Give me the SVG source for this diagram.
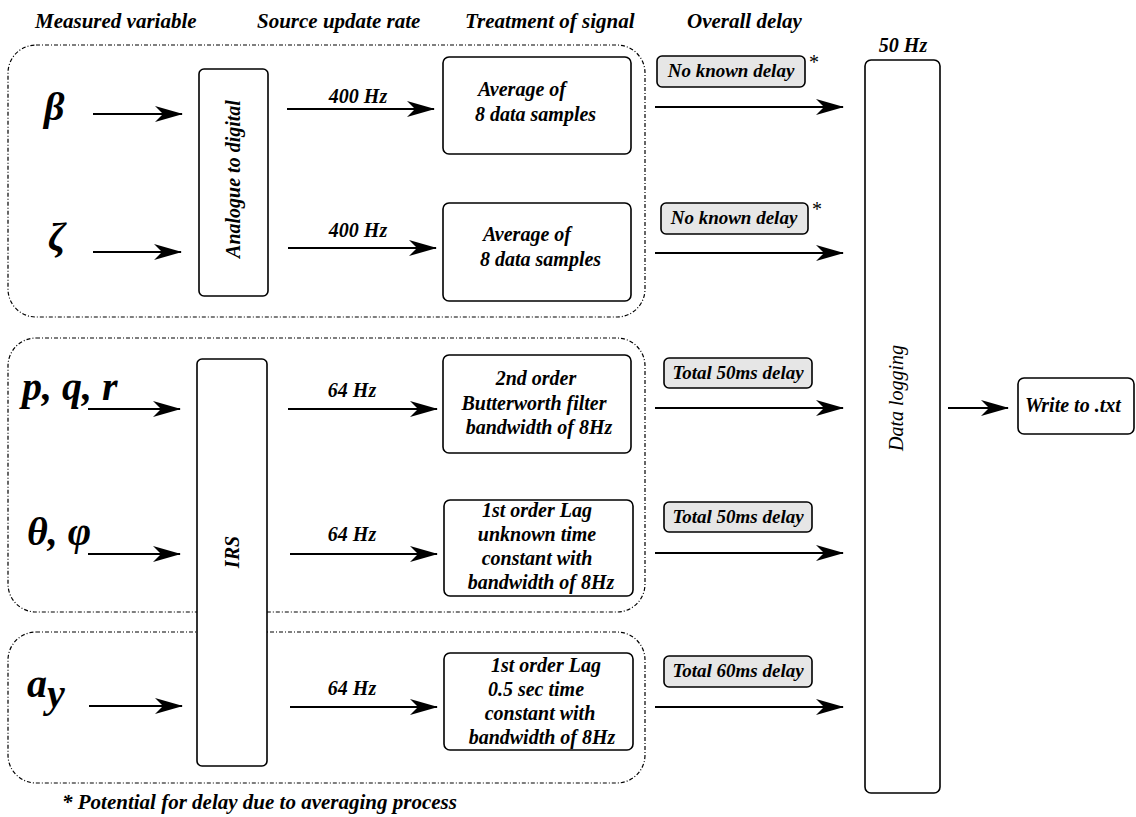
<svg xmlns="http://www.w3.org/2000/svg" width="1136" height="817" viewBox="0 0 1136 817">
<style>
.t{font-family:"Liberation Serif","Times New Roman",serif;font-weight:bold;font-style:italic;fill:#000}
.h{font-size:21px}
.lbl{font-size:20px}
.bx{font-size:20px}
.dl{font-size:19px}
.gr{font-size:40px}
.grp{fill:none;stroke:#000;stroke-width:1.2;stroke-dasharray:4 2 1 2}
.node{fill:#fff;stroke:#000;stroke-width:1.6}
.tag{fill:#e6e6e6;stroke:#000;stroke-width:1.6}
.c{stroke:#000;stroke-width:1.8;fill:none;marker-end:url(#ah)}
</style>
<defs>
<marker id="ah" markerUnits="userSpaceOnUse" viewBox="0 0 28 16" markerWidth="28" markerHeight="16" refX="27" refY="8" orient="auto">
<path d="M0,0 L28,8 L0,16 L8,8 Z" fill="#000"/>
</marker>
</defs>
<rect width="1136" height="817" fill="#fff"/>

<g id="headers">
<text class="t h" x="35" y="28">Measured variable</text>
<text class="t h" x="257" y="28">Source update rate</text>
<text class="t h" x="465" y="28">Treatment of signal</text>
<text class="t h" x="687" y="28">Overall delay</text>
</g>

<g id="groups">
<rect id="group-1" class="grp" x="8" y="45" width="637" height="272" rx="28"/>
<rect id="group-2" class="grp" x="8" y="338" width="637" height="274" rx="28"/>
<rect id="group-3" class="grp" x="8" y="632" width="637" height="151" rx="28"/>
</g>

<g id="var-beta"><text class="t gr" x="44" y="120">β</text></g>
<g id="var-zeta"><text class="t gr" x="48" y="250">ζ</text></g>
<g id="var-pqr"><text class="t gr" x="22" y="400">p, q, r</text></g>
<g id="var-theta-phi"><text class="t gr" x="27" y="545">θ, φ</text></g>
<g id="var-ay"><text class="t gr" x="27" y="697">a<tspan dy="10">y</tspan></text></g>

<g id="adc">
<rect class="node" x="199" y="69" width="69" height="227" rx="5"/>
<text class="t bx" transform="translate(240,179) rotate(-90)" text-anchor="middle">Analogue to digital</text>
</g>
<g id="irs">
<rect class="node" x="197" y="359" width="70" height="407" rx="5"/>
<text class="t bx" transform="translate(239,552) rotate(-90)" text-anchor="middle">IRS</text>
</g>

<g id="avg-1">
<rect class="node" x="443" y="57" width="188" height="97" rx="6"/>
<text class="t bx" x="478" y="96">Average of</text>
<text class="t bx" x="475" y="121">8 data samples</text>
</g>
<g id="avg-2">
<rect class="node" x="443" y="203" width="188" height="98" rx="6"/>
<text class="t bx" x="483" y="241">Average of</text>
<text class="t bx" x="480" y="266">8 data samples</text>
</g>
<g id="butterworth">
<rect class="node" x="443" y="355" width="188" height="98" rx="6"/>
<text class="t bx" x="536" y="385" text-anchor="middle">2nd order</text>
<text class="t bx" x="534" y="410" text-anchor="middle">Butterworth filter</text>
<text class="t bx" x="539" y="434" text-anchor="middle">bandwidth of 8Hz</text>
</g>
<g id="lag-1">
<rect class="node" x="444" y="500" width="189" height="96" rx="6"/>
<text class="t bx" x="537" y="517" text-anchor="middle">1st order Lag</text>
<text class="t bx" x="537" y="541" text-anchor="middle">unknown time</text>
<text class="t bx" x="537" y="565" text-anchor="middle">constant with</text>
<text class="t bx" x="541" y="589" text-anchor="middle">bandwidth of 8Hz</text>
</g>
<g id="lag-2">
<rect class="node" x="444" y="653" width="189" height="97" rx="6"/>
<text class="t bx" x="546" y="672" text-anchor="middle">1st order Lag</text>
<text class="t bx" x="536" y="696" text-anchor="middle">0.5 sec time</text>
<text class="t bx" x="540" y="720" text-anchor="middle">constant with</text>
<text class="t bx" x="542" y="744" text-anchor="middle">bandwidth of 8Hz</text>
</g>

<g id="delay-1">
<rect class="tag" x="657" y="56" width="148" height="31" rx="5"/>
<text class="t dl" x="731" y="77" text-anchor="middle">No known delay</text>
<text class="t" x="809" y="69" style="font-size:20px;font-weight:normal;font-style:normal">*</text>
</g>
<g id="delay-2">
<rect class="tag" x="661" y="203" width="147" height="31" rx="5"/>
<text class="t dl" x="734" y="224" text-anchor="middle">No known delay</text>
<text class="t" x="812" y="216" style="font-size:20px;font-weight:normal;font-style:normal">*</text>
</g>
<g id="delay-3">
<rect class="tag" x="664" y="358" width="148" height="30" rx="5"/>
<text class="t dl" x="738" y="379" text-anchor="middle">Total 50ms delay</text>
</g>
<g id="delay-4">
<rect class="tag" x="664" y="502" width="148" height="30" rx="5"/>
<text class="t dl" x="738" y="523" text-anchor="middle">Total 50ms delay</text>
</g>
<g id="delay-5">
<rect class="tag" x="664" y="656" width="148" height="31" rx="5"/>
<text class="t dl" x="738" y="677" text-anchor="middle">Total 60ms delay</text>
</g>

<g id="data-logging">
<text class="t lbl" x="903" y="52" text-anchor="middle">50 Hz</text>
<rect class="node" x="865" y="60" width="75" height="733" rx="6"/>
<text class="t" style="font-size:20px;font-weight:normal" transform="translate(903,398) rotate(-90)" text-anchor="middle">Data logging</text>
</g>
<g id="write-txt">
<rect class="node" x="1018" y="378" width="116" height="56" rx="6"/>
<text class="t bx" x="1025" y="412">Write to .txt</text>
</g>

<g id="connectors">
<line class="c" x1="93" y1="114" x2="182" y2="114"/>
<line class="c" x1="93" y1="252" x2="181" y2="252"/>
<line class="c" x1="88" y1="409" x2="180" y2="409"/>
<line class="c" x1="88" y1="554" x2="180" y2="554"/>
<line class="c" x1="89" y1="706" x2="182" y2="706"/>

<line class="c" x1="287" y1="109" x2="434" y2="109"/>
<line class="c" x1="288" y1="248" x2="436" y2="248"/>
<line class="c" x1="288" y1="409" x2="437" y2="409"/>
<line class="c" x1="290" y1="554" x2="437" y2="554"/>
<line class="c" x1="290" y1="707" x2="437" y2="707"/>

<line class="c" x1="655" y1="107" x2="843" y2="107"/>
<line class="c" x1="655" y1="253" x2="843" y2="253"/>
<line class="c" x1="655" y1="408" x2="843" y2="408"/>
<line class="c" x1="655" y1="553" x2="843" y2="553"/>
<line class="c" x1="655" y1="707" x2="843" y2="707"/>

<line class="c" x1="948" y1="408" x2="1008" y2="408"/>

<text class="t lbl" x="358" y="103" text-anchor="middle">400 Hz</text>
<text class="t lbl" x="358" y="237" text-anchor="middle">400 Hz</text>
<text class="t lbl" x="352" y="397" text-anchor="middle">64 Hz</text>
<text class="t lbl" x="352" y="541" text-anchor="middle">64 Hz</text>
<text class="t lbl" x="352" y="695" text-anchor="middle">64 Hz</text>
</g>

<g id="footnote">
<text class="t h" x="62" y="809">* Potential for delay due to averaging process</text>
</g>
</svg>
